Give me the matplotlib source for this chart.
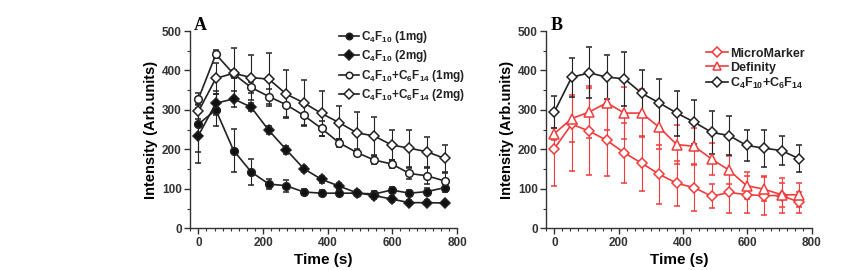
import matplotlib
matplotlib.use("Agg")
import matplotlib.pyplot as plt
from matplotlib.ticker import MultipleLocator
from matplotlib.lines import Line2D

plt.rcParams['font.family'] = ['Liberation Sans', 'DejaVu Sans']
plt.rcParams['mathtext.fontset'] = 'custom'
plt.rcParams['mathtext.rm'] = 'Liberation Sans:bold'
plt.rcParams['mathtext.it'] = 'Liberation Sans:bold'
plt.rcParams['mathtext.bf'] = 'Liberation Sans:bold'
plt.rcParams['mathtext.default'] = 'bf'

time_s = [0, 54, 109, 163, 218, 272, 326, 381, 435, 490, 544, 598, 653, 707, 762]

# Panel A
a_c4f10_1mg = [264, 300, 197, 143, 112, 108, 92, 89, 89, 89, 87, 97, 89, 93, 103]
a_c4f10_1mg_err = [70, 40, 55, 33, 13, 15, 8, 8, 8, 8, 8, 8, 8, 8, 10]
a_c4f10_2mg = [235, 317, 328, 307, 248, 199, 151, 124, 107, 90, 83, 74, 65, 65, 64]
a_c4f10_2mg_err = [70, 30, 20, 10, 10, 10, 8, 8, 8, 8, 8, 8, 6, 6, 6]
a_mix_1mg = [328, 441, 391, 357, 334, 313, 286, 253, 217, 192, 173, 163, 139, 133, 120]
a_mix_1mg_err = [15, 10, 10, 15, 20, 30, 25, 20, 10, 10, 10, 10, 15, 20, 20]
a_mix_2mg = [296, 380, 393, 382, 378, 340, 318, 291, 268, 242, 234, 211, 203, 194, 177]
a_mix_2mg_err = [20, 40, 65, 58, 67, 60, 59, 57, 42, 53, 49, 39, 47, 38, 34]

# Panel B
b_micromarker = [202, 264, 246, 223, 191, 165, 137, 114, 103, 81, 91, 85, 83, 83, 66]
b_micromarker_err = [95, 120, 110, 90, 75, 70, 75, 57, 58, 30, 53, 47, 49, 45, 26]
b_definity = [240, 278, 295, 318, 292, 292, 256, 212, 208, 175, 147, 108, 99, 85, 85]
b_definity_err = [15, 60, 65, 70, 65, 60, 55, 50, 45, 40, 35, 35, 30, 30, 30]
b_mix = [295, 383, 394, 383, 379, 342, 318, 292, 269, 243, 235, 210, 203, 197, 176]
b_mix_err = [40, 49, 65, 56, 68, 59, 61, 57, 56, 54, 49, 40, 47, 36, 34]

RED = '#f03c3c'
DARK = '#222222'
fig = plt.figure(figsize=(8.61, 2.70), dpi=100)
axA = fig.add_axes([190/861, 1-228.3/270, (457-190)/861, (228.3-31)/270])
axB = fig.add_axes([546/861, 1-228.3/270, (811.5-546)/861, (228.3-31)/270])

def style(ax):
    ax.set_xlim(-26, 800)
    ax.set_ylim(0, 500)
    ax.spines['top'].set_visible(False)
    ax.spines['right'].set_visible(False)
    for s in ('left', 'bottom'):
        ax.spines[s].set_linewidth(1.0)
        ax.spines[s].set_color('#333333')
    ax.xaxis.set_major_locator(MultipleLocator(200))
    ax.xaxis.set_minor_locator(MultipleLocator(25))
    ax.yaxis.set_major_locator(MultipleLocator(100))
    ax.yaxis.set_minor_locator(MultipleLocator(50))
    ax.tick_params(which='major', direction='out', length=4, width=1, labelsize=8.5, pad=2, colors='#333333')
    ax.tick_params(which='minor', direction='out', length=2, width=0.8, colors='#333333')
    for lab in ax.get_xticklabels() + ax.get_yticklabels():
        lab.set_fontweight('bold')
    ax.set_xlabel('Time (s)', fontsize=11, fontweight='bold', labelpad=3)
    ax.set_ylabel('Intensity (Arb.units)', fontsize=10.5, fontweight='bold', labelpad=3)

def series(ax, y, err, marker, mfc, color, label, ms=5.5):
    ax.errorbar(time_s, y, yerr=err, color=color, ecolor=color, elinewidth=0.8,
                capsize=2, capthick=0.8, lw=1.2, marker=marker, ms=ms,
                mfc=mfc, mec=color, mew=1.1)
    return Line2D([], [], color=color, lw=1.2, marker=marker, ms=ms*0.85,
                  mfc=mfc, mec=color, mew=1.1, label=label)

hA = [
    series(axA, a_c4f10_1mg, a_c4f10_1mg_err, 'o', '#111111', DARK, r'C$_4$F$_{10}$ (1mg)', ms=5.5),
    series(axA, a_c4f10_2mg, a_c4f10_2mg_err, 'D', '#111111', DARK, r'C$_4$F$_{10}$ (2mg)', ms=5.5),
    series(axA, a_mix_1mg, a_mix_1mg_err, 'o', 'white', DARK, r'C$_4$F$_{10}$+C$_6$F$_{14}$ (1mg)', ms=5.5),
    series(axA, a_mix_2mg, a_mix_2mg_err, 'D', 'white', DARK, r'C$_4$F$_{10}$+C$_6$F$_{14}$ (2mg)', ms=5.5),
]
hB = [
    series(axB, b_micromarker, b_micromarker_err, 'D', 'white', RED, 'MicroMarker', ms=5.5),
    series(axB, b_definity, b_definity_err, '^', 'white', RED, 'Definity', ms=6.5),
    series(axB, b_mix, b_mix_err, 'D', 'white', DARK, r'C$_4$F$_{10}$+C$_6$F$_{14}$', ms=5.5),
]

for ax in (axA, axB):
    style(ax)

legA = axA.legend(handles=hA, loc='upper left', bbox_to_anchor=(0.54, 1.035), frameon=False,
                  handlelength=1.7, handletextpad=0.2, labelspacing=0.3,
                  borderaxespad=0, prop={'weight': 'bold', 'size': 8.5})
legB = axB.legend(handles=hB, loc='upper left', bbox_to_anchor=(0.585, 0.94), frameon=False,
                  handlelength=1.7, handletextpad=0.2, labelspacing=0.15,
                  borderaxespad=0, prop={'weight': 'bold', 'size': 9})
for leg in (legA, legB):
    for t in leg.get_texts():
        t.set_color('#222222')

fig.text(194/861, 1-25/270, 'A', fontsize=13, fontweight='bold', family='Liberation Serif', va='center')
fig.text(551/861, 1-25/270, 'B', fontsize=13, fontweight='bold', family='Liberation Serif', va='center')

fig.savefig('out.png', dpi=100)
